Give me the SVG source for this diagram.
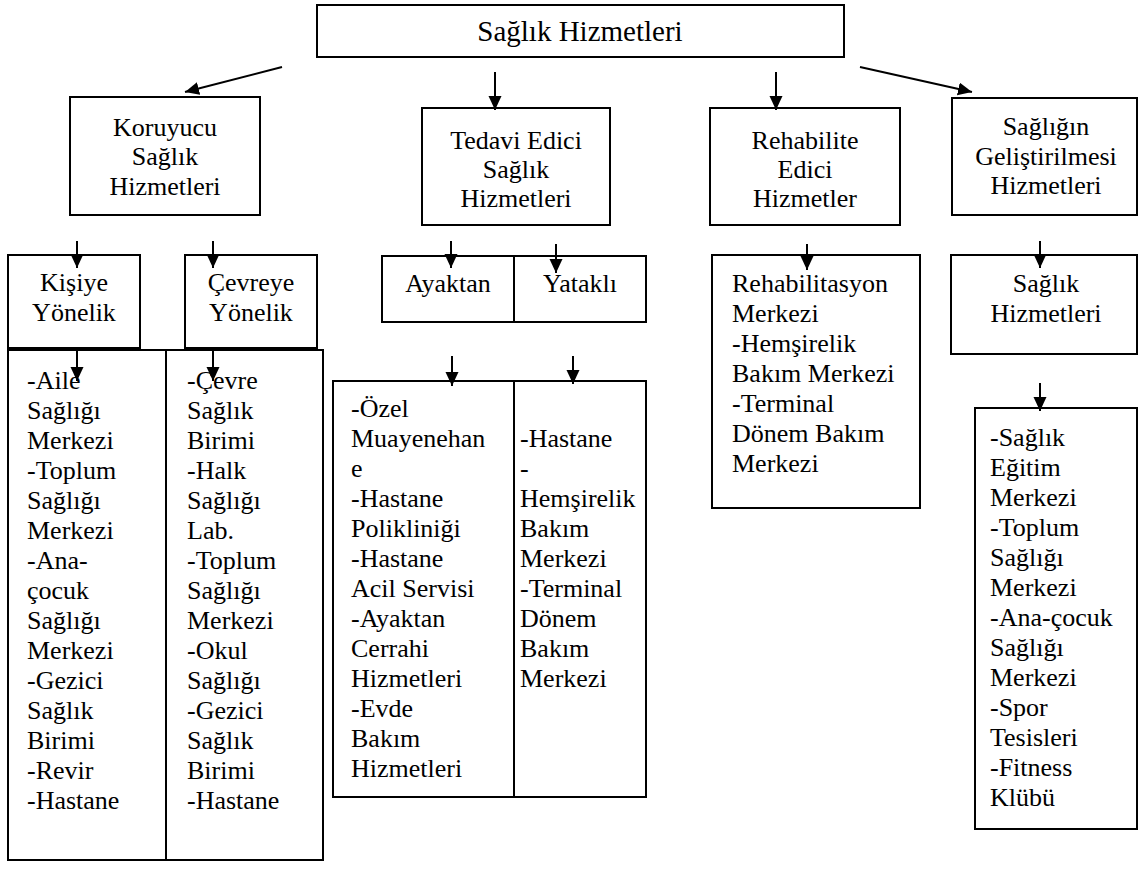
<svg xmlns="http://www.w3.org/2000/svg" width="1139" height="894" viewBox="0 0 1139 894" font-family="Liberation Serif, Times New Roman, serif">
<defs>
<marker id="ah" markerUnits="userSpaceOnUse" markerWidth="14" markerHeight="14" refX="14" refY="6.5" orient="auto">
<path d="M0,0 L14,6.5 L0,13 z" fill="#000"/>
</marker>
</defs>
<style>
.b{fill:#fff;stroke:#000;stroke-width:2}
.t{font-family:'Liberation Serif',serif;font-size:26px;fill:#000}
.c{text-anchor:middle}
.l{stroke:#000;stroke-width:2;fill:none}
.a{stroke:#000;stroke-width:2;fill:none;marker-end:url(#ah)}
</style>
<rect width="1139" height="894" fill="#fff"/>

<g id="root">
<rect class="b" x="317" y="5" width="527" height="52"/>
<text class="t c" x="580" y="41" style="font-size:29px">Sağlık Hizmetleri</text>
</g>

<g id="koruyucu">
<rect class="b" x="70" y="97" width="190" height="118"/>
<text class="t c" x="165" y="136">Koruyucu</text>
<text class="t c" x="165" y="165">Sağlık</text>
<text class="t c" x="165" y="195">Hizmetleri</text>
</g>

<g id="tedavi">
<rect class="b" x="422" y="108" width="188" height="117"/>
<text class="t c" x="516" y="149">Tedavi Edici</text>
<text class="t c" x="516" y="178">Sağlık</text>
<text class="t c" x="516" y="207">Hizmetleri</text>
</g>

<g id="rehabilite">
<rect class="b" x="710" y="108" width="190" height="117"/>
<text class="t c" x="805" y="149">Rehabilite</text>
<text class="t c" x="805" y="178">Edici</text>
<text class="t c" x="805" y="207">Hizmetler</text>
</g>

<g id="gelistirme">
<rect class="b" x="952" y="98" width="185" height="117"/>
<text class="t c" x="1046" y="135">Sağlığın</text>
<text class="t c" x="1046" y="165">Geliştirilmesi</text>
<text class="t c" x="1046" y="194">Hizmetleri</text>
</g>

<g id="kisiye">
<rect class="b" x="8" y="255" width="132" height="93"/>
<text class="t c" x="74" y="291">Kişiye</text>
<text class="t c" x="74" y="321">Yönelik</text>
</g>

<g id="cevreye">
<rect class="b" x="185" y="255" width="132" height="93"/>
<text class="t c" x="251" y="291">Çevreye</text>
<text class="t c" x="251" y="321">Yönelik</text>
</g>

<g id="ayaktan-yatakli">
<rect class="b" x="382" y="256" width="264" height="66"/>
<line class="l" x1="514" y1="256" x2="514" y2="322"/>
<text class="t c" x="448" y="292">Ayaktan</text>
<text class="t c" x="580" y="292">Yataklı</text>
</g>

<g id="rehab-list">
<rect class="b" x="712" y="255" width="208" height="253"/>
<text class="t" x="732" y="292">Rehabilitasyon</text>
<text class="t" x="732" y="322">Merkezi</text>
<text class="t" x="732" y="352">-Hemşirelik</text>
<text class="t" x="732" y="382">Bakım Merkezi</text>
<text class="t" x="732" y="412">-Terminal</text>
<text class="t" x="732" y="442">Dönem Bakım</text>
<text class="t" x="732" y="472">Merkezi</text>
</g>

<g id="saglik-hizmetleri">
<rect class="b" x="951" y="255" width="186" height="99"/>
<text class="t c" x="1046" y="292">Sağlık</text>
<text class="t c" x="1046" y="322">Hizmetleri</text>
</g>

<g id="koruyucu-list">
<rect class="b" x="8" y="350" width="315" height="510"/>
<line class="l" x1="166" y1="350" x2="166" y2="860"/>
<text class="t" x="27" y="389">-Aile</text>
<text class="t" x="27" y="419">Sağlığı</text>
<text class="t" x="27" y="449">Merkezi</text>
<text class="t" x="27" y="479">-Toplum</text>
<text class="t" x="27" y="509">Sağlığı</text>
<text class="t" x="27" y="539">Merkezi</text>
<text class="t" x="27" y="569">-Ana-</text>
<text class="t" x="27" y="599">çocuk</text>
<text class="t" x="27" y="629">Sağlığı</text>
<text class="t" x="27" y="659">Merkezi</text>
<text class="t" x="27" y="689">-Gezici</text>
<text class="t" x="27" y="719">Sağlık</text>
<text class="t" x="27" y="749">Birimi</text>
<text class="t" x="27" y="779">-Revir</text>
<text class="t" x="27" y="809">-Hastane</text>
<text class="t" x="187" y="389">-Çevre</text>
<text class="t" x="187" y="419">Sağlık</text>
<text class="t" x="187" y="449">Birimi</text>
<text class="t" x="187" y="479">-Halk</text>
<text class="t" x="187" y="509">Sağlığı</text>
<text class="t" x="187" y="539">Lab.</text>
<text class="t" x="187" y="569">-Toplum</text>
<text class="t" x="187" y="599">Sağlığı</text>
<text class="t" x="187" y="629">Merkezi</text>
<text class="t" x="187" y="659">-Okul</text>
<text class="t" x="187" y="689">Sağlığı</text>
<text class="t" x="187" y="719">-Gezici</text>
<text class="t" x="187" y="749">Sağlık</text>
<text class="t" x="187" y="779">Birimi</text>
<text class="t" x="187" y="809">-Hastane</text>
</g>

<g id="tedavi-list">
<rect class="b" x="333" y="381" width="313" height="416"/>
<line class="l" x1="514" y1="381" x2="514" y2="797"/>
<text class="t" x="351" y="417">-Özel</text>
<text class="t" x="351" y="447">Muayenehan</text>
<text class="t" x="351" y="477">e</text>
<text class="t" x="351" y="507">-Hastane</text>
<text class="t" x="351" y="537">Polikliniği</text>
<text class="t" x="351" y="567">-Hastane</text>
<text class="t" x="351" y="597">Acil Servisi</text>
<text class="t" x="351" y="627">-Ayaktan</text>
<text class="t" x="351" y="657">Cerrahi</text>
<text class="t" x="351" y="687">Hizmetleri</text>
<text class="t" x="351" y="717">-Evde</text>
<text class="t" x="351" y="747">Bakım</text>
<text class="t" x="351" y="777">Hizmetleri</text>
<text class="t" x="520" y="447">-Hastane</text>
<text class="t" x="520" y="477">-</text>
<text class="t" x="520" y="507">Hemşirelik</text>
<text class="t" x="520" y="537">Bakım</text>
<text class="t" x="520" y="567">Merkezi</text>
<text class="t" x="520" y="597">-Terminal</text>
<text class="t" x="520" y="627">Dönem</text>
<text class="t" x="520" y="657">Bakım</text>
<text class="t" x="520" y="687">Merkezi</text>
</g>

<g id="gelistirme-list">
<rect class="b" x="975" y="408" width="162" height="421"/>
<text class="t" x="990" y="446">-Sağlık</text>
<text class="t" x="990" y="476">Eğitim</text>
<text class="t" x="990" y="506">Merkezi</text>
<text class="t" x="990" y="536">-Toplum</text>
<text class="t" x="990" y="566">Sağlığı</text>
<text class="t" x="990" y="596">Merkezi</text>
<text class="t" x="990" y="626">-Ana-çocuk</text>
<text class="t" x="990" y="656">Sağlığı</text>
<text class="t" x="990" y="686">Merkezi</text>
<text class="t" x="990" y="716">-Spor</text>
<text class="t" x="990" y="746">Tesisleri</text>
<text class="t" x="990" y="776">-Fitness</text>
<text class="t" x="990" y="806">Klübü</text>
</g>

<g id="connectors">
<line class="a" x1="282" y1="67" x2="185" y2="92"/>
<line class="a" x1="495" y1="72" x2="495" y2="110"/>
<line class="a" x1="776" y1="72" x2="776" y2="110"/>
<line class="a" x1="860" y1="67" x2="972" y2="92"/>
<line class="a" x1="77" y1="241" x2="77" y2="268"/>
<line class="a" x1="213" y1="241" x2="213" y2="268"/>
<line class="a" x1="451" y1="241" x2="451" y2="268"/>
<line class="a" x1="556" y1="244" x2="556" y2="273"/>
<line class="a" x1="807" y1="244" x2="807" y2="270"/>
<line class="a" x1="1040" y1="241" x2="1040" y2="268"/>
<line class="a" x1="77" y1="351" x2="77" y2="381"/>
<line class="a" x1="213" y1="351" x2="213" y2="381"/>
<line class="a" x1="452" y1="356" x2="452" y2="386"/>
<line class="a" x1="573" y1="356" x2="573" y2="384"/>
<line class="a" x1="1040" y1="383" x2="1040" y2="411"/>
</g>
</svg>
